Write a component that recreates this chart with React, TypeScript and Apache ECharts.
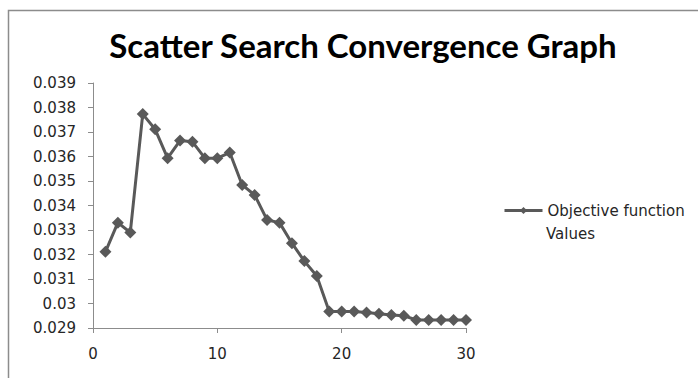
import React, { useEffect, useRef } from "react";
import * as echarts from "echarts";

const iterations = [1, 2, 3, 4, 5, 6, 7, 8, 9, 10, 11, 12, 13, 14, 15, 16, 17, 18, 19, 20, 21, 22, 23, 24, 25, 26, 27, 28, 29, 30];
const objectiveValues = [
  0.03211, 0.0333, 0.0329, 0.03773, 0.03711, 0.03593, 0.03665, 0.0366, 0.03593, 0.03593,
  0.03616, 0.03484, 0.03443, 0.03341, 0.0333, 0.03246, 0.03173, 0.03112, 0.02967, 0.02967,
  0.02967, 0.02963, 0.02958, 0.02953, 0.0295, 0.02933, 0.02933, 0.02933, 0.02933, 0.02933,
];
const titleText = "Scatter Search Convergence Graph";
const seriesName = "Objective function";
const seriesNameLine2 = "Values";

export default function App() {
  const ref = useRef<HTMLDivElement>(null);
  useEffect(() => {
    if (!ref.current) return;
    const chart = echarts.init(ref.current, undefined, { renderer: "svg" });
    const titleFont = "Lato, 'Open Sans', sans-serif";
    const font = "'DejaVu Sans', sans-serif";
    chart.setOption({
      animation: false,
      backgroundColor: "#ffffff",
      title: {
        text: titleText,
        left: 358,
        top: 23,
        textAlign: "center",
        textStyle: { fontFamily: titleFont, fontWeight: "bold", fontSize: 33, color: "#000000" },
      },
      grid: { left: 93, top: 83, right: 232, bottom: 50, containLabel: false },
      xAxis: {
        type: "value",
        min: 0,
        max: 30,
        interval: 10,
        axisLine: { lineStyle: { color: "#8c8c8c", width: 1 } },
        axisTick: { show: true, inside: false, length: 5, lineStyle: { color: "#8c8c8c" } },
        splitLine: { show: false },
        axisLabel: { fontFamily: font, fontSize: 15, color: "#262626", margin: 18 },
      },
      yAxis: {
        type: "value",
        min: 0.029,
        max: 0.039,
        interval: 0.001,
        axisLine: { show: true, lineStyle: { color: "#8c8c8c", width: 1 } },
        axisTick: { show: true, inside: false, length: 5, lineStyle: { color: "#8c8c8c" } },
        splitLine: { show: false },
        axisLabel: {
          fontFamily: font,
          fontSize: 15,
          color: "#262626",
          margin: 17,
          formatter: (v: number) => parseFloat(v.toFixed(3)).toString(),
        },
      },
      legend: {
        show: true,
        left: 503,
        top: 203,
        padding: 0,
        itemWidth: 38,
        itemHeight: 9,
        itemGap: 2,
        lineStyle: { width: 3, color: "#595959" },
        textStyle: { fontFamily: font, fontSize: 15, color: "#262626" },
        data: [{ name: seriesName }],
      },
      graphic: [
        {
          type: "rect",
          shape: { x: 8.5, y: 10.5, width: 720, height: 400 },
          style: { fill: "none", stroke: "#8c8c8c", lineWidth: 1.5 },
          silent: true,
        },
        {
          type: "text",
          left: 546,
          top: 226,
          style: { text: seriesNameLine2, fontFamily: font, fontSize: 15, fill: "#262626" },
        },
      ],
      series: [
        {
          name: seriesName,
          type: "line",
          data: iterations.map((x, i) => [x, objectiveValues[i]]),
          symbol: "diamond",
          symbolSize: 12,
          lineStyle: { color: "#595959", width: 3 },
          itemStyle: { color: "#595959" },
        },
      ],
    });
    return () => chart.dispose();
  }, []);
  return <div ref={ref} style={{ position: "fixed", left: 0, top: 0, width: 698, height: 378 }} />;
}
